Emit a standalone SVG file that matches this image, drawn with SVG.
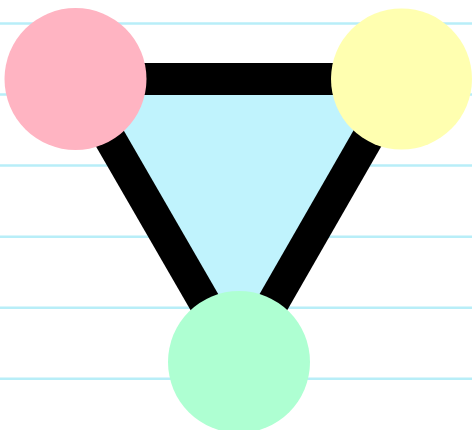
<svg xmlns="http://www.w3.org/2000/svg" width="472" height="430" viewBox="0 0 472 430">
<style>
.rule{stroke:#b8eef8;stroke-width:2.5}
.edge{stroke:#000;stroke-width:32;stroke-linecap:butt}
</style>
<rect width="472" height="430" fill="#fff"/>
<g id="rules">
<line class="rule" x1="0" y1="23.5" x2="472" y2="23.5"/>
<line class="rule" x1="0" y1="94.5" x2="472" y2="94.5"/>
<line class="rule" x1="0" y1="165.5" x2="472" y2="165.5"/>
<line class="rule" x1="0" y1="236.7" x2="472" y2="236.7"/>
<line class="rule" x1="0" y1="307.7" x2="472" y2="307.7"/>
<line class="rule" x1="0" y1="378.8" x2="472" y2="378.8"/>
</g>
<polygon id="face" points="75.5,79 401.5,79 239,362" fill="#c0f3fd"/>
<g id="connectors">
<line class="edge" x1="75.5" y1="79" x2="401.5" y2="79"/>
<line class="edge" x1="401.5" y1="79" x2="239" y2="362"/>
<line class="edge" x1="239" y1="362" x2="75.5" y2="79"/>
</g>
<g id="node-pink"><circle cx="75.5" cy="79" r="71" fill="#ffb4c2"/></g>
<g id="node-yellow"><circle cx="401.5" cy="79" r="70.5" fill="#ffffb0"/></g>
<g id="node-green"><circle cx="239" cy="362" r="71" fill="#aeffd2"/></g>
</svg>
